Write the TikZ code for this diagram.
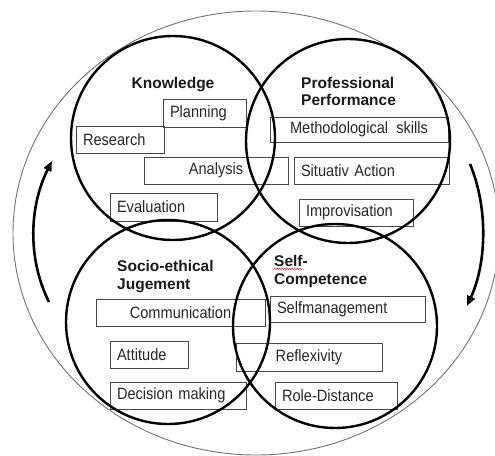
\documentclass[tikz,border=0pt]{standalone}
\usepackage{fontspec}
\setmainfont{Liberation Sans}
\newfontfamily\boxfont[FakeStretch=0.89]{Liberation Sans}
\usetikzlibrary{arrows.meta,decorations.pathmorphing,shapes.geometric}
\begin{document}
\begin{tikzpicture}[x=1pt,y=-1pt,
  box/.style={draw=black!72, line width=0.9pt, inner xsep=7pt, inner ysep=0pt,
    minimum height=27pt, font=\boxfont\fontsize{16.4}{18}\selectfont, text=black!85},
  lbox/.style={box, align=left},
  cbox/.style={box, align=center},
  ring/.style={circle, draw=black, line width=2.4pt, inner sep=0pt, minimum size=204pt},
  outerring/.style={ellipse, draw=black!55, line width=0.9pt, inner sep=0pt,
    minimum width=486pt, minimum height=444pt},
  title/.style={font=\bfseries\fontsize{15.5}{18}\selectfont, inner sep=0pt, text=black!90},
  cyc/.style={line width=2.6pt, -{Triangle[length=10pt,width=8pt]}}
]
\useasboundingbox (0,0) rectangle (495,455);

% outer ring
\node[outerring] (outer) at (256,233) {};

% boxes
\node[lbox, text width=69pt, minimum height=28pt] (plan) at (204.5,113) {Planning};
\node[lbox, text width=74pt] (res) at (120,139.5) {Research};
\node[cbox, text width=130pt] (ana) at (216,170.5) {Analysis};
\node[lbox, text width=93pt, minimum height=28pt] (eva) at (163.5,207) {Evaluation};
\node[cbox, text width=164pt, minimum height=25pt] (meth) at (359,129.5) {Methodological\, skills};
\node[lbox, text width=141pt] (sit) at (371.5,170.5) {Situativ Action};
\node[lbox, text width=100pt] (impr) at (356,212.5) {Improvisation};
\node[cbox, text width=155pt] (comm) at (180.5,312.5) {Communication};
\node[lbox, text width=64pt] (att) at (149,354.5) {Attitude};
\node[lbox, text width=122pt] (dec) at (178,395.5) {Decision making};
\node[lbox, text width=141pt, minimum height=26pt] (selfm) at (347.5,309) {Selfmanagement};
\node[cbox, text width=132pt, minimum height=28pt] (refl) at (309,357) {Reflexivity};
\node[lbox, text width=108pt] (role) at (336,395.5) {Role-Distance};

% four circles
\node[ring] (know) at (173,138) {};
\node[ring] (prof) at (348,141) {};
\node[ring] (socio) at (168,322) {};
\node[ring] (selfc) at (335,326) {};

% titles
\node[title, anchor=base] (knowt) at (173,88) {Knowledge};
\node[title, anchor=base west] (proft1) at (301,88) {Professional};
\node[title, anchor=base west] (proft2) at (301,105.5) {Performance};
\node[title, anchor=base west] (soct1) at (117,271) {Socio-ethical};
\node[title, anchor=base west] (soct2) at (117,289) {Jugement};
\node[title, anchor=base west] (selft1) at (274,266) {Self-};
\node[title, anchor=base west] (selft2) at (274,284) {Competence};
\draw[red, line width=0.5pt, decorate, decoration={snake, amplitude=0.7pt, segment length=2.5pt}]
  (selft1.south west) ++(0,2.5) -- ++(28,0);

% cycle arrows
\coordinate (la) at (49,302);
\coordinate (lb) at (52,161);
\draw[cyc] (la) .. controls (27,258) and (29.5,205.6) .. (lb);
\coordinate (ra) at (470,164);
\coordinate (rb) at (467,306);
\draw[cyc] (ra) .. controls (488,207) and (487,262) .. (rb);
\end{tikzpicture}
\end{document}
